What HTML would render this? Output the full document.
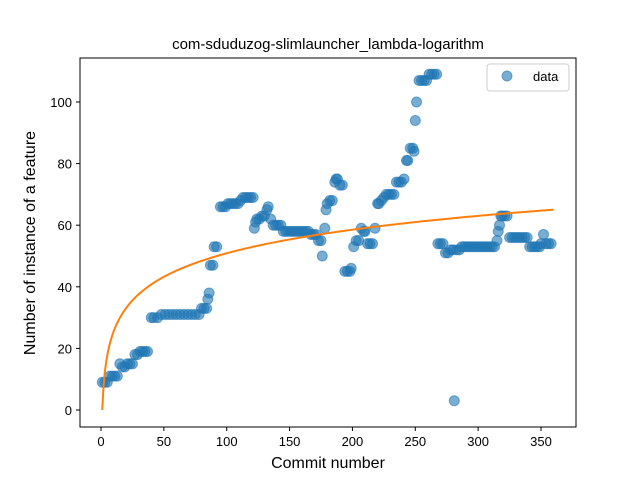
<!DOCTYPE html>
<html><head><meta charset="utf-8"><style>
body{margin:0;background:#fff}
svg{display:block;font-family:"Liberation Sans","DejaVu Sans",sans-serif}
</style></head><body>
<svg id="chart" width="640" height="480">
<rect x="0" y="0" width="640" height="480" fill="#fff"/>
<text x="328" y="49" text-anchor="middle" font-size="15">com-sduduzog-slimlauncher_lambda-logarithm</text>
<g id="pts"></g>
<path id="fit" fill="none" stroke="#ff7f0e" stroke-width="2"/>
<rect x="80" y="58" width="496" height="369" fill="none" stroke="#000" stroke-width="1"/>
<g id="xt"></g>
<g id="yt"></g>
<text x="328" y="468" text-anchor="middle" font-size="16">Commit number</text>
<text transform="translate(35,243) rotate(-90)" text-anchor="middle" font-size="16">Number of instance of a feature</text>
<g>
<rect x="487" y="64" width="82" height="27" rx="3" fill="#fff" stroke="#ccc"/>
<circle cx="507" cy="76" r="5" fill="#1f77b4" fill-opacity="0.6" stroke="#1f77b4" stroke-opacity="0.6"/>
<text x="533" y="81" font-size="13">data</text>
</g>
</svg>
<script>
const xTicks=[0,50,100,150,200,250,300,350];
const yTicks=[0,20,40,60,80,100];
const commits=[1,3,5,7,9,11,13,15,17,19,21,23,25,27,29,31,33,35,37,40,42,45,48,51,54,57,60,63,66,69,72,75,78,80,82,84,85,86,87,89,90,92,95,97,99,101,103,105,107,109,111,113,115,117,119,121,122,123,124,126,128,130,132,133,135,137,139,141,143,145,147,149,151,153,155,157,159,161,163,165,167,169,171,173,175,176,178,179,180,182,184,186,187,188,190,192,194,196,198,199,201,203,205,207,209,210,212,214,216,218,220,221,223,225,227,229,231,233,235,237,239,241,243,244,246,248,249,250,251,253,255,257,259,261,263,265,267,268,270,272,274,276,278,280,281,283,285,287,289,291,293,295,297,299,301,303,305,307,309,311,313,315,316,317,318,319,321,323,325,327,329,331,333,335,337,339,341,343,345,347,349,350,352,354,356,358];
const counts=[9,9,9,11,11,11,11,15,14,14,15,15,15,18,18,19,19,19,19,30,30,30,31,31,31,31,31,31,31,31,31,31,31,33,33,33,36,38,47,47,53,53,66,66,66,67,67,67,67,67,68,69,69,69,69,69,59,61,62,62,63,63,65,66,62,60,60,60,60,58,58,58,58,58,58,58,58,58,58,58,57,57,57,55,55,50,59,65,67,68,68,74,75,75,73,73,45,45,45,46,53,55,55,59,58,58,54,54,54,59,67,67,68,69,70,70,70,70,74,74,74,75,81,81,85,85,84,94,100,107,107,107,107,109,109,109,109,54,54,54,51,51,52,52,3,52,52,53,53,53,53,53,53,53,53,53,53,53,53,53,53,55,58,60,63,63,63,63,56,56,56,56,56,56,56,56,53,53,53,53,53,54,57,54,54,54,54];
const fitA=11.05, fitB=0, fitStart=1, fitEnd=360;
const sx=v=>101+v*(440/350);
const sy=v=>410-v*3.08;
const NS='http://www.w3.org/2000/svg';
const g=document.getElementById('pts');
for(let i=0;i<commits.length;i++){
  const c=document.createElementNS(NS,'circle');
  c.setAttribute('cx',sx(commits[i]));c.setAttribute('cy',sy(counts[i]));c.setAttribute('r',5);
  c.setAttribute('fill','#1f77b4');c.setAttribute('fill-opacity','0.6');
  c.setAttribute('stroke','#1f77b4');c.setAttribute('stroke-opacity','0.6');
  
  
  g.appendChild(c);
}
let d='';
for(let x=fitStart;x<=fitEnd;x+=1){const y=fitA*Math.log(x)+fitB;d+=(d?'L':'M')+sx(x).toFixed(2)+','+sy(y).toFixed(2);}
document.getElementById('fit').setAttribute('d',d);
const xt=document.getElementById('xt');
xTicks.forEach(t=>{
  const l=document.createElementNS(NS,'line');
  l.setAttribute('x1',sx(t));l.setAttribute('x2',sx(t));l.setAttribute('y1',427);l.setAttribute('y2',431);l.setAttribute('stroke','#000');
  
  
  xt.appendChild(l);
  const s=document.createElementNS(NS,'text');
  s.setAttribute('x',sx(t));s.setAttribute('y',446);s.setAttribute('text-anchor','middle');s.setAttribute('font-size','13');s.textContent=t;
  
  
  xt.appendChild(s);
});
const yt=document.getElementById('yt');
yTicks.forEach(t=>{
  const l=document.createElementNS(NS,'line');
  l.setAttribute('x1',76);l.setAttribute('x2',80);l.setAttribute('y1',sy(t));l.setAttribute('y2',sy(t));l.setAttribute('stroke','#000');
  
  
  yt.appendChild(l);
  const s=document.createElementNS(NS,'text');
  s.setAttribute('x',72);s.setAttribute('y',sy(t)+5);s.setAttribute('text-anchor','end');s.setAttribute('font-size','13');s.textContent=t;
  
  
  yt.appendChild(s);
});
</script>
</body></html>
